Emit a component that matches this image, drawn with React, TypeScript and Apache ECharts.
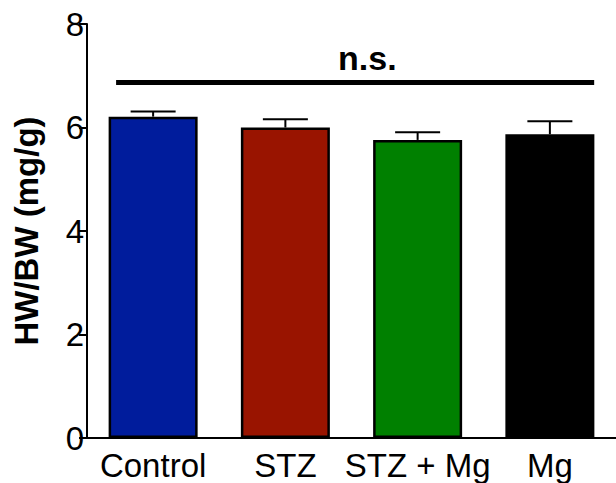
import React, { useEffect, useRef } from "react";
import * as echarts from "echarts";

const categories = ["Control", "STZ", "STZ + Mg", "Mg"];
const means = [6.21, 6.0, 5.76, 5.87];
const errors = [0.1, 0.16, 0.15, 0.25];
const barColors = ["#001c9c", "#991400", "#008000", "#000000"];
const yTicks = { min: 0, max: 8, interval: 2 };
const sigLine = { from: -0.28, to: 3.335, y: 6.87 };
const sigLabel = { text: "n.s.", x: 1.62, y: 7.34 };

const FONT = "'Liberation Sans', Arial, Helvetica, sans-serif";

export default function App() {
  const ref = useRef<HTMLDivElement>(null);
  useEffect(() => {
    if (!ref.current) return;
    const chart = echarts.init(ref.current, undefined, { renderer: "svg" });
    chart.setOption({
      animation: false,
      grid: { left: 87, right: -5, top: 24, bottom: 45 },
      xAxis: [
        {
          type: "category",
          data: categories,
          axisLine: { onZero: false, lineStyle: { color: "#000", width: 2 } },
          axisTick: { alignWithLabel: true, length: 8, lineStyle: { color: "#000", width: 2 } },
          axisLabel: { interval: 0, color: "#000", fontSize: 33, fontFamily: FONT, margin: 11 },
        },
        { type: "value", min: -0.5, max: 3.5, show: false },
      ],
      yAxis: {
        type: "value",
        min: yTicks.min,
        max: yTicks.max,
        interval: yTicks.interval,
        name: "HW/BW (mg/g)",
        nameLocation: "middle",
        nameRotate: 90,
        nameGap: 44,
        nameTextStyle: { color: "#000", fontSize: 33, fontWeight: "bold", fontFamily: FONT },
        axisLine: { show: true, onZero: false, lineStyle: { color: "#000", width: 2 } },
        axisTick: { show: true, length: 8, lineStyle: { color: "#000", width: 2 } },
        axisLabel: { color: "#000", fontSize: 33, fontFamily: FONT, margin: 3 },
        splitLine: { show: false },
      },
      series: [
        {
          type: "bar",
          barWidth: 89,
          data: means.map((v, i) => ({
            value: v,
            itemStyle: { color: barColors[i], borderColor: "#000", borderWidth: 2.5 },
          })),
        },
        {
          type: "custom",
          data: means.map((v, i) => [i, v, errors[i]]),
          renderItem: (params: any, api: any) => {
            const i = api.value(0);
            const v = api.value(1);
            const e = api.value(2);
            const base = api.coord([i, v]);
            const top = api.coord([i, v + e]);
            const half = 22.5;
            return {
              type: "group",
              children: [
                { type: "line", shape: { x1: base[0], y1: base[1], x2: top[0], y2: top[1] }, style: { stroke: "#000", lineWidth: 2 } },
                { type: "line", shape: { x1: top[0] - half, y1: top[1], x2: top[0] + half, y2: top[1] }, style: { stroke: "#000", lineWidth: 2 } },
              ],
            };
          },
          z: 5,
        },
        {
          type: "line",
          xAxisIndex: 1,
          data: [
            [sigLine.from, sigLine.y],
            [sigLine.to, sigLine.y],
          ],
          symbol: "none",
          lineStyle: { color: "#000", width: 5 },
        },
        {
          type: "scatter",
          xAxisIndex: 1,
          symbolSize: 0,
          itemStyle: { opacity: 1, color: "#000" },
          data: [[sigLabel.x, sigLabel.y]],
          label: {
            show: true,
            position: "inside",
            formatter: sigLabel.text,
            color: "#000",
            fontSize: 34,
            fontWeight: "bold",
            fontFamily: FONT,
          },
        },
      ],
    });
    return () => chart.dispose();
  }, []);
  return <div ref={ref} style={{ position: "fixed", left: 0, top: 0, width: 616, height: 483, background: "#fff" }} />;
}
